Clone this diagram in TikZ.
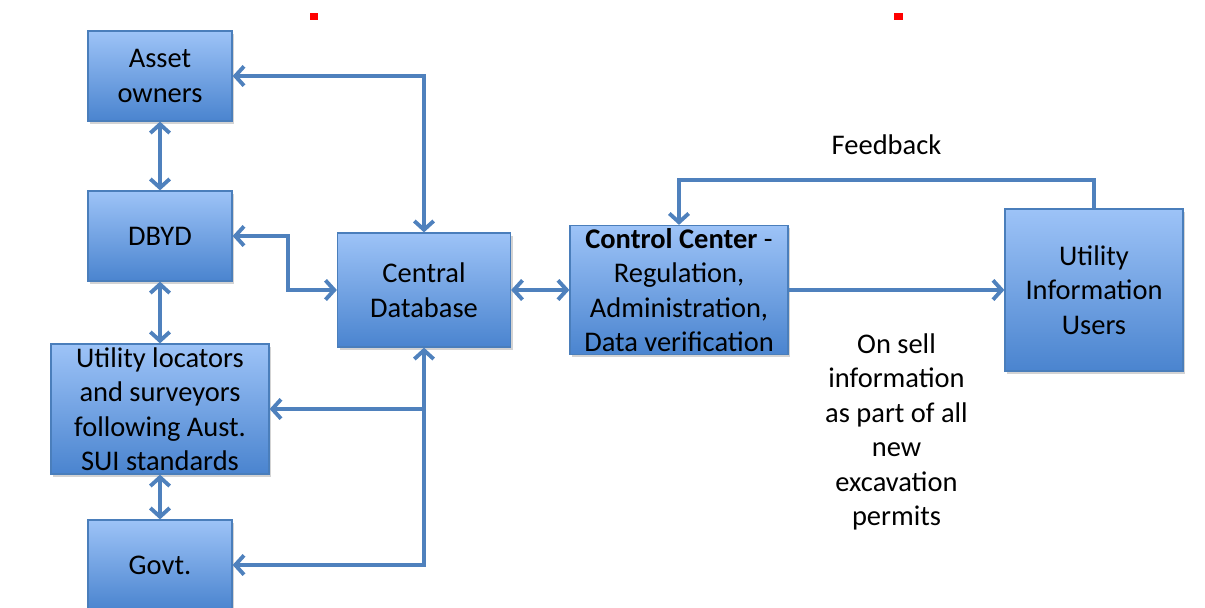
\documentclass[tikz,border=0pt]{standalone}
\usepackage{fontspec}
\setmainfont{Carlito}
\usetikzlibrary{positioning, arrows.meta, shadows}

\definecolor{boxtop}{HTML}{9DC3F7}
\definecolor{boxbot}{HTML}{4A84CF}
\definecolor{boxline}{HTML}{4A7EBB}
\definecolor{linkblue}{HTML}{4F81BD}

\begin{document}
\begin{tikzpicture}[node distance=3.2cm, on grid, >={Straight Barb[length=5pt,width=11pt]},
        every node/.style={font=\fontsize{16.2}{19.6}\selectfont},
        block/.style={draw=boxline, line width=0.7pt, top color=boxtop, bottom color=boxbot, align=center, inner sep=0pt,
            drop shadow={shadow xshift=1.2pt, shadow yshift=-1.5pt, opacity=0.35}},
        small/.style={block, minimum width=2.88cm, minimum height=1.8cm},
        link/.style={draw=linkblue, line width=2.2pt},
        plain/.style={align=center}]
        \useasboundingbox (0,0) rectangle (24.1,-12.14);

        % red marks at the top
        \fill[red] (6.2,-0.26) rectangle (6.36,-0.4);
        \fill[red] (17.88,-0.26) rectangle (18.06,-0.4);

        \node[small] (asset) at (3.2,-1.52) {Asset\\owners};
        \node[small, below=of asset] (dbyd) {DBYD};
        \node[block, below=3.46cm of dbyd, minimum width=4.36cm, minimum height=2.6cm] (locators) {Utility locators\\and surveyors\\following Aust.\\SUI standards};
        \node[small, below=3.12cm of locators] (govt) {Govt.};
        \node[block, below right=1.08cm and 5.28cm of dbyd, minimum width=3.46cm, minimum height=2.28cm] (central) {Central\\Database};
        \node[block, right=5.1cm of central, minimum width=4.36cm, minimum height=2.58cm] (control) {\textbf{Control Center} -\\Regulation,\\Administration,\\Data verification};
        \node[block, right=8.3cm of control, minimum width=3.56cm, minimum height=3.24cm] (users) {Utility\\Information\\Users};

        \draw[link, <->] (asset.east) -- (asset.east -| central.north) -- (central.north);
        \draw[link, <->] (asset) -- (dbyd);
        \draw[link, <->] (dbyd.east) -- ++(1.1,0) |- (central.west);
        \draw[link, <->] (dbyd) -- (locators);
        \draw[link, <->] (locators) -- (govt);
        \draw[link, <->] (govt.east) -| (central.south);
        \draw[link, ->] (central.south |- locators.east) -- (locators.east);
        \draw[link, <->] (central) -- (control);
        \draw[link, ->] (control.east) -- (control.east -| users.west)
            node[plain, midway, yshift=-2.84cm] {On sell\\information\\as part of all\\new\\excavation\\permits};
        \draw[link, ->] (users.north) -- ++(0,0.56) -| (control.north)
            node[pos=0.25, yshift=0.72cm] {Feedback};
    \end{tikzpicture}
\end{document}
